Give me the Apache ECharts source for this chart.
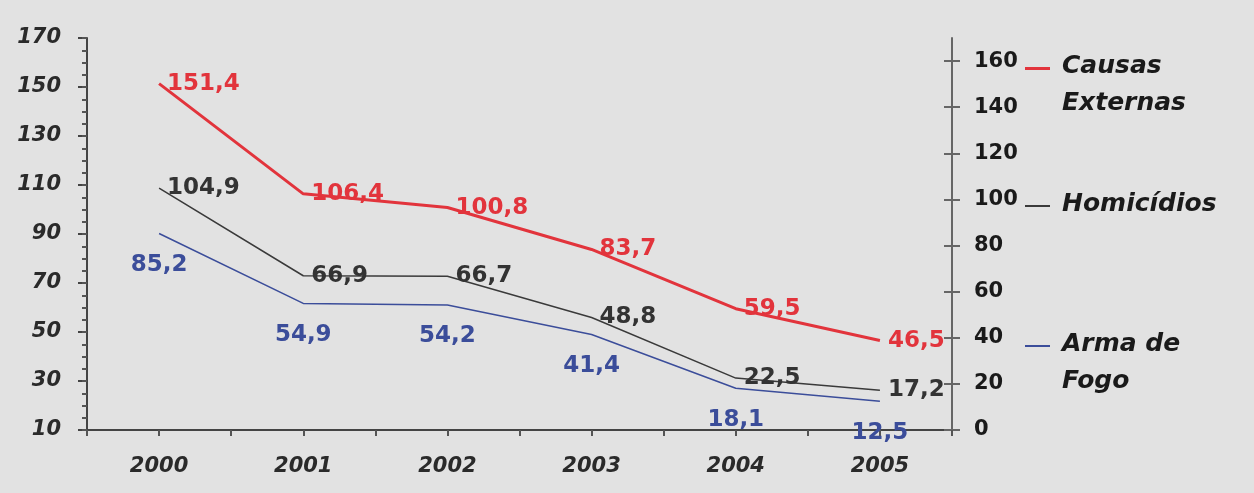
<!DOCTYPE html>
<html>
<head>
<meta charset="utf-8">
<script src="https://cdn.jsdelivr.net/npm/echarts@6/dist/echarts.min.js"></script>
<style>
    html, body { margin: 0; padding: 0; background: #e2e2e2; }
    #chart { width: 1254px; height: 493px; }
</style>
</head>
<body>
<div id="chart"></div>
<script>
var years = ['2000', '2001', '2002', '2003', '2004', '2005'];
var causasExternas = [151.4, 106.4, 100.8, 83.7, 59.5, 46.5];
var homicidios = [104.9, 66.9, 66.7, 48.8, 22.5, 17.2];
var armaDeFogo = [85.2, 54.9, 54.2, 41.4, 18.1, 12.5];
var leftTicks = [10, 30, 50, 70, 90, 110, 130, 150, 170];
var rightTicks = [0, 20, 40, 60, 80, 100, 120, 140, 160];

(function () {
    var myChart = echarts.init(document.getElementById('chart'));
    var font = 'DejaVu Sans';
    var red = '#e2343c', black = '#3a3a3a', blue = '#3b4d9a';
    var comma = function (p) { return String(p.value).replace('.', ','); };
    // half-category ticks along the x axis
    var halfTicks = [];
    for (var i = 0; i < years.length * 2; i++) halfTicks.push('t' + i);

    var legendItem = function (y, color, lines) {
        var items = [{
            type: 'rect', left: 1025, top: y - 1,
            shape: { width: 25, height: color === red ? 3 : 2 },
            style: { fill: color }
        }];
        lines.forEach(function (t, k) {
            items.push({
                type: 'text', left: 1062, top: y - 14 + k * 37,
                style: { text: t, font: 'italic bold 25px "DejaVu Sans"', fill: '#1a1a1a' }
            });
        });
        return items;
    };

    var labelStyle = function (color, pos, dist) {
        return {
            show: true, position: pos, distance: dist, formatter: comma,
            color: color, fontFamily: font, fontSize: 23, fontWeight: 'bold'
        };
    };

    var option = {
        backgroundColor: '#e2e2e2',
        animation: false,
        grid: { left: 87, right: 302, top: 38, bottom: 63 },
        xAxis: [{
            type: 'category',
            data: years,
            boundaryGap: true,
            axisLine: { lineStyle: { color: '#444', width: 2 } },
            axisTick: { show: false },
            axisLabel: {
                margin: 26, color: '#2a2a2a', fontFamily: font,
                fontSize: 21, fontWeight: 'bold', fontStyle: 'italic'
            }
        }, {
            type: 'category',
            data: halfTicks,
            position: 'bottom',
            boundaryGap: true,
            axisLine: { show: false },
            axisTick: { show: true, length: 6, interval: 0, lineStyle: { color: '#555', width: 2 } },
            axisLabel: { show: false }
        }],
        yAxis: [{
            type: 'value', min: 10, max: 170, position: 'left',
            splitLine: { show: false },
            axisLine: { show: true, lineStyle: { color: '#444', width: 2 } },
            axisTick: { show: true, length: 9, customValues: leftTicks, lineStyle: { color: '#444', width: 2 } },
            axisLabel: {
                customValues: leftTicks, margin: 26, color: '#2a2a2a', fontFamily: font,
                fontSize: 21, fontWeight: 'bold', fontStyle: 'italic'
            }
        }, {
            type: 'value', min: 10, max: 170, interval: 5, position: 'left',
            splitLine: { show: false },
            axisLine: { show: false },
            axisTick: { show: true, length: 5, lineStyle: { color: '#555', width: 2 } },
            axisLabel: { show: false }
        }, {
            type: 'value', min: 0, max: 170, position: 'right',
            splitLine: { show: false },
            axisLine: { show: true, lineStyle: { color: '#666', width: 2 } },
            axisTick: { show: true, length: 8, customValues: rightTicks, lineStyle: { color: '#666', width: 2 } },
            axisLabel: {
                customValues: rightTicks, margin: 22, color: '#1a1a1a', fontFamily: font,
                fontSize: 21, fontWeight: 'bold'
            }
        }, {
            type: 'value', min: 0, max: 170, position: 'right',
            splitLine: { show: false },
            axisLine: { show: false },
            axisTick: { show: true, inside: true, length: 8, customValues: rightTicks, lineStyle: { color: '#666', width: 2 } },
            axisLabel: { show: false }
        }],
        series: [{
            name: 'Causas Externas',
            type: 'line',
            data: causasExternas,
            yAxisIndex: 0,
            symbol: 'circle',
            symbolSize: 0,
            showSymbol: true,
            lineStyle: { color: red, width: 3 },
            itemStyle: { color: red },
            label: labelStyle(red, 'right', 8)
        }, {
            name: 'Homicídios',
            type: 'line',
            data: homicidios,
            yAxisIndex: 2,
            symbol: 'circle',
            symbolSize: 0,
            showSymbol: true,
            lineStyle: { color: black, width: 1.5 },
            itemStyle: { color: black },
            label: labelStyle('#333', 'right', 8)
        }, {
            name: 'Arma de Fogo',
            type: 'line',
            data: armaDeFogo,
            yAxisIndex: 2,
            symbol: 'circle',
            symbolSize: 0,
            showSymbol: true,
            lineStyle: { color: blue, width: 1.5 },
            itemStyle: { color: blue },
            label: labelStyle(blue, 'bottom', 20)
        }],
        graphic: [].concat(
            legendItem(68, red, ['Causas', 'Externas']),
            legendItem(206, black, ['Homicídios']),
            legendItem(346, blue, ['Arma de', 'Fogo'])
        )
    };
    myChart.setOption(option);
})();
</script>
</body>
</html>
